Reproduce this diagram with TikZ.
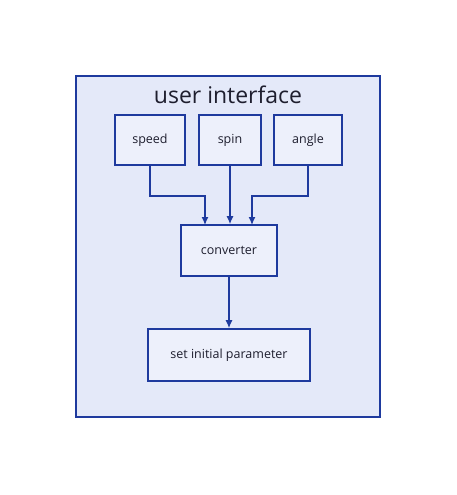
\documentclass[tikz,border=0pt]{standalone}
\usepackage{fontspec}
\setmainfont{Open Sans}
\usetikzlibrary{arrows.meta,positioning}
\definecolor{inkblue}{HTML}{1E3A9E}
\definecolor{inktext}{HTML}{1E1E2E}
\definecolor{panelfill}{HTML}{E4E9F9}
\definecolor{boxfill}{HTML}{EDF0FB}
\tikzset{font=\small}
\tikzset{box/.style={draw=inkblue, line width=1.6pt, fill=boxfill, inner sep=0pt, text=inktext, font=\fontsize{12.5}{15}\selectfont}}
\tikzset{link/.style={draw=inkblue, line width=1.3pt, -{Latex[length=8pt,width=7pt]}}}

\begin{document}
\begin{tikzpicture}[x=1pt,y=-1pt]
  \useasboundingbox (0,0) rectangle (457,495);
  \draw[inkblue, line width=1.6pt, fill=panelfill] (76,76) rectangle (380,417);
  \node[text=inktext, font=\fontsize{23}{26}\selectfont] (title) at (228,95) {user interface};

  \node[box, minimum width=70pt, minimum height=50pt] (speed) at (150,140) {speed};
  \node[box, minimum width=62pt, minimum height=50pt] (spin) at (230,140) {spin};
  \node[box, minimum width=68pt, minimum height=50pt] (angle) at (308,140) {angle};
  \node[box, minimum width=96pt, minimum height=51pt] (conv) at (229,250.5) {converter};
  \node[box, minimum width=162pt, minimum height=52pt] (setp) at (229,355) {set initial parameter};

  % entry points on top of the converter
  \coordinate (convL) at (205,225);
  \coordinate (convR) at (252,225);

  \draw[link] (speed.south) |- (205,196) -- (convL);
  \draw[link] (spin.south) -- (spin.south |- conv.north);
  \draw[link] (angle.south) |- (252,196) -- (convR);
  \draw[link] (conv.south) -- (setp.north);
\end{tikzpicture}
\end{document}
